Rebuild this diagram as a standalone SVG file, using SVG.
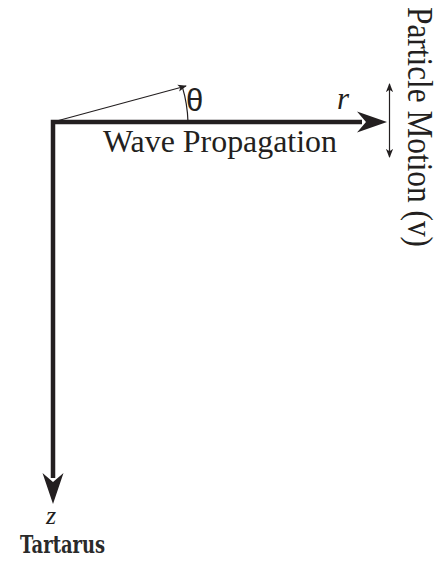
<svg xmlns="http://www.w3.org/2000/svg" width="438" height="564" viewBox="0 0 438 564">
<style>
.serif{font-family:"Liberation Serif","Times New Roman",serif;fill:#231f20}
.thin{stroke:#231f20;stroke-width:1.2;fill:none}
.thick{stroke:#231f20;stroke-width:4.5;fill:none;stroke-linejoin:miter}
.head{fill:#231f20}
</style>
<defs>
<marker id="sm" viewBox="0 0 10 10" refX="9" refY="5" markerWidth="9" markerHeight="9" markerUnits="userSpaceOnUse" orient="auto-start-reverse">
<path d="M0,1 L10,5 L0,9 L2.5,5 Z" fill="#231f20"/>
</marker>
</defs>
<rect width="438" height="564" fill="#fff"/>
<g id="connectors">
<path class="thick" d="M53,478 L53,122 L362,122"/>
<polygon class="head" points="387,122 357,111.5 366,122 357,132.5"/>
<polygon class="head" points="53,504 42.5,473 53,482 63.5,473"/>
<line class="thin" x1="53" y1="122" x2="186" y2="86" marker-end="url(#sm)"/>
<path class="thin" d="M182.4,87.1 A135,135 0 0 1 188,122"/>
<line class="thin" x1="389.5" y1="84" x2="389.5" y2="157" marker-start="url(#sm)" marker-end="url(#sm)"/>
</g>
<g id="theta"><text x="186" y="111" font-family="Liberation Sans, Arial, sans-serif" font-size="31" fill="#231f20">θ</text></g>
<g id="r-label"><text class="serif" x="337" y="109" font-size="31" font-style="italic">r</text></g>
<g id="wave"><text class="serif" x="103" y="151.5" font-size="31" textLength="234" lengthAdjust="spacingAndGlyphs">Wave Propagation</text></g>
<g id="particle"><text class="serif" transform="translate(408,7) rotate(90)" font-size="35" textLength="240" lengthAdjust="spacingAndGlyphs">Particle Motion (v)</text></g>
<g id="z-label"><text class="serif" x="51" y="524" font-size="26" font-style="italic" text-anchor="middle">z</text></g>
<g id="tartarus"><text x="20" y="553" font-family="DejaVu Serif, serif" font-size="24" font-weight="bold" fill="#2a2a2a" textLength="85" lengthAdjust="spacingAndGlyphs">Tartarus</text></g>
</svg>
